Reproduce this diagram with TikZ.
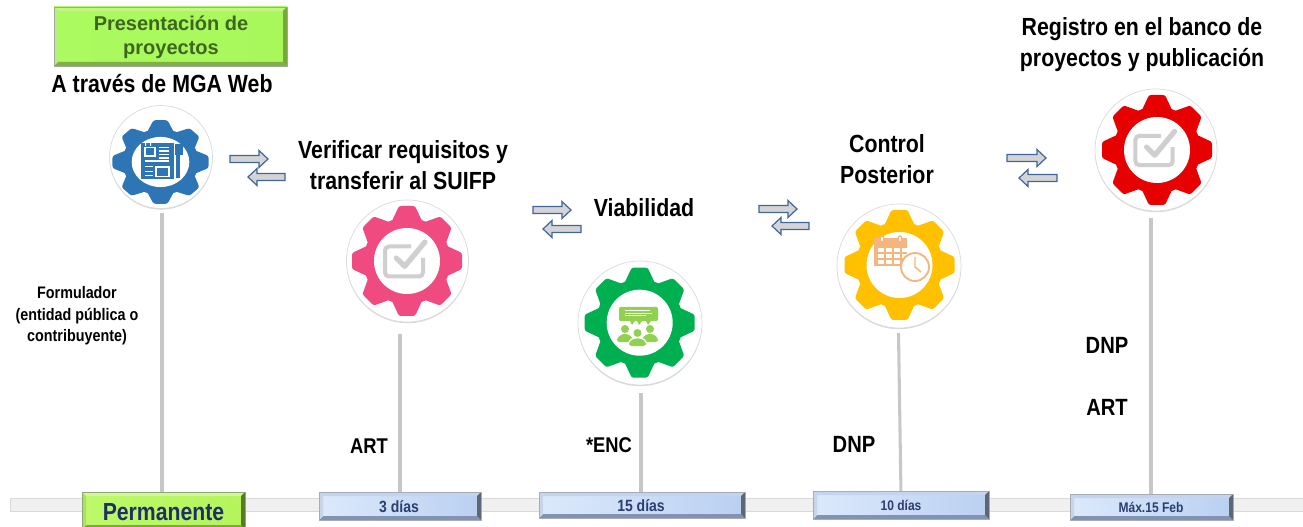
\documentclass[tikz,border=0pt]{standalone}
\usepackage{fontspec}
\setmainfont{Liberation Sans}[BoldFont={Liberation Sans Bold}]
\newfontfamily\narrowbold{Liberation Sans Bold}[FakeStretch=0.86]
\newfontfamily\widebold{Liberation Sans Bold}
\usetikzlibrary{calc}
\definecolor{gblue}{HTML}{2E75B6}
\definecolor{gpink}{HTML}{F04B80}
\definecolor{ggreen}{HTML}{00B050}
\definecolor{gyellow}{HTML}{FFC000}
\definecolor{gred}{HTML}{E60000}
\definecolor{lgreen}{HTML}{92D050}
\definecolor{lorange}{HTML}{F4B57E}
\definecolor{lgray}{HTML}{CFCFCF}
\definecolor{txtgreen}{HTML}{3F661D}
\definecolor{txtblue}{HTML}{1F3068}
\definecolor{txtblue2}{HTML}{2A3F70}
\definecolor{flowline}{HTML}{41659F}
% palettes: L,R face; T,B,W,E bevels; O outline
\definecolor{pL}{HTML}{BDF969}\definecolor{pR}{HTML}{B4F45C}\definecolor{pT}{HTML}{D3F69A}\definecolor{pB}{HTML}{7FA83A}\definecolor{pW}{HTML}{A9E05C}\definecolor{pE}{HTML}{557A2A}\definecolor{pO}{HTML}{8FA878}
\definecolor{bL}{HTML}{DCE9FB}\definecolor{bR}{HTML}{BAD0F2}\definecolor{bT}{HTML}{C4D4EE}\definecolor{bB}{HTML}{8292B2}\definecolor{bW}{HTML}{C8D4E8}\definecolor{bE}{HTML}{5C6674}\definecolor{bO}{HTML}{A8ACB4}
\definecolor{tL}{HTML}{ABFB60}\definecolor{tR}{HTML}{A8F85C}\definecolor{tT}{HTML}{C6F388}\definecolor{tB}{HTML}{80B045}\definecolor{tW}{HTML}{B6F07A}\definecolor{tE}{HTML}{78A83C}\definecolor{tO}{HTML}{A0A8A0}
\tikzset{
  x=0.75pt,y=-0.75pt,
  lbl/.style={inner sep=0pt,align=center,text=black},
  bigtxt/.style={lbl,font=\narrowbold\fontsize{18.6}{23.3}\selectfont},
  midtxt/.style={lbl,font=\narrowbold\fontsize{16}{20}\selectfont},
  dnptxt/.style={lbl,font=\narrowbold\fontsize{17.6}{20}\selectfont},
  smalltxt/.style={lbl,font=\narrowbold\fontsize{12.5}{16}\selectfont},
  disc/.style={circle,fill=white,draw=black!15,line width=0.5pt,inner sep=0pt},
  stem/.style={draw=black!22,line width=2.3pt},
  flow/.style={draw=flowline,fill=black!17,line width=0.9pt,line join=miter},
  boxtxt/.style={inner sep=0pt,text=txtblue2,font=\narrowbold\fontsize{12.2}{13}\selectfont},
  band/.style={draw=black!15,fill=black!6,line width=0.6pt},
}
% gear: name, disc cx cy radius, gear cx cy, xscale, yscale, colour
\newcommand{\gearicon}[9]{%
  \fill[black!14] (#2,#3+1.2) circle[radius=#4];
  \node[disc,minimum size=#4*1.5pt] (#1) at (#2,#3) {};
  \begin{scope}[shift={(#5,#6)},xscale=#7,yscale=#8]
    \fill[#9] (0,0) circle[radius=43.5];
    \foreach \k in {0,45,...,315}{
      \begin{scope}[rotate=\k]
        \fill[#9,rounded corners=1.6pt] (-15.5,-39) -- (-8,-55) -- (8,-55) -- (15.5,-39) -- cycle;
      \end{scope}
    }
    \fill[white] (0,0) circle[radius=33];
  \end{scope}
}
\newcommand{\rarrow}[3]{\draw[flow] (#1,#3-3.5) -- (#2-9,#3-3.5) -- (#2-9,#3-8.5) -- (#2,#3) -- (#2-9,#3+8.5) -- (#2-9,#3+3.5) -- (#1,#3+3.5) -- cycle;}
\newcommand{\larrow}[3]{\draw[flow] (#2,#3-3.5) -- (#1+9,#3-3.5) -- (#1+9,#3-8.5) -- (#1,#3) -- (#1+9,#3+8.5) -- (#1+9,#3+3.5) -- (#2,#3+3.5) -- cycle;}
% bevelled box: name x1 y1 x2 y2 palette letter
\newcommand{\bevel}[6]{%
  \fill[left color=#6L,right color=#6R] (#2,#3) rectangle (#4,#5);
  \fill[#6T] (#2,#3) -- (#4,#3) -- (#4-4,#3+4) -- (#2+4,#3+4) -- cycle;
  \fill[#6B] (#2,#5) -- (#4,#5) -- (#4-4,#5-4) -- (#2+4,#5-4) -- cycle;
  \fill[#6W] (#2,#3) -- (#2+4,#3+4) -- (#2+4,#5-4) -- (#2,#5) -- cycle;
  \fill[#6E] (#4,#3) -- (#4-4,#3+4) -- (#4-4,#5-4) -- (#4,#5) -- cycle;
  \node[draw=#6O,line width=0.7pt,inner sep=0pt,minimum width=(#4-#2)*0.75pt,minimum height=(#5-#3)*0.75pt] (#1) at ({(#2+#4)/2},{(#3+#5)/2}) {};
}
\begin{document}
\begin{tikzpicture}
\useasboundingbox (0,0) rectangle (1303,527);
% timeline band
\draw[band] (10,498) rectangle (1303,511.5);
% gears
\gearicon{gA}{161}{157}{51.5}{160.5}{162}{0.873}{0.76}{gblue}
\gearicon{gB}{407.5}{261}{61}{407}{261}{1}{1}{gpink}
\gearicon{gC}{640}{323}{62}{639.7}{322.7}{1}{1}{ggreen}
\gearicon{gD}{899}{266}{62}{899.5}{265}{1}{1}{gyellow}
\gearicon{gE}{1156}{150}{61}{1157}{150}{1}{1}{gred}
% stem ends
\coordinate (sA) at (162,213);
\coordinate (sB) at (400,334);
\coordinate (sC) at (641,393);
\coordinate (sD) at (898.5,333);
\coordinate (eD) at (901,400);
\coordinate (sE) at (1151,218);
% stems
\draw[stem] (sA) -- (sA |- 0,495);
\draw[stem] (sB) -- (sB |- 0,495);
\draw[stem] (sC) -- (sC |- 0,495);
\draw[stem] (sD) -- (eD |- 0,495);
\draw[stem] (sE) -- (sE |- 0,497);
% boxes
\bevel{bA}{82}{492}{245}{529}{p}
\bevel{bB}{319}{492}{481}{520}{b}
\bevel{bC}{539}{492}{745}{518}{b}
\bevel{bD}{813}{491}{989}{519}{b}
\bevel{bE}{1070}{494}{1233}{520}{b}
\bevel{bT}{54}{7}{287}{66}{t}
\node[boxtxt,text=txtblue,font=\narrowbold\fontsize{18.5}{20}\selectfont] (tA) at (bA.center |- 0,512) {Permanente};
\node[boxtxt] (tB) at (399,507) {3 días};
\node[boxtxt] (tC) at (641,506) {15 días};
\node[boxtxt,font=\narrowbold\fontsize{10.5}{12}\selectfont] (tD) at (901,505) {10 días};
\node[boxtxt,font=\narrowbold\fontsize{10.5}{12}\selectfont] (tE) at (1151,507) {Máx.15 Feb};
\node[lbl,text=txtgreen,font=\widebold\fontsize{15}{18}\selectfont] (tT) at (171,37) {Presentación de\\proyectos};
% arrows
\rarrow{230}{268}{159}\larrow{248}{285}{177}
\rarrow{533}{571}{210}\larrow{543}{581}{229}
\rarrow{759}{797}{209}\larrow{772}{809}{226}
\rarrow{1007}{1046}{158}\larrow{1019}{1057}{178}
% headings
\node[bigtxt] (h1) at (162,84) {A través de MGA Web};
\node[bigtxt] (h2) at (403,165) {Verificar requisitos y\\transferir al SUIFP};
\node[bigtxt] (h3) at (644,208) {Viabilidad};
\node[bigtxt] (h4) at (887,159) {Control\\Posterior};
\node[bigtxt] (h5) at (1142,45) {Registro en el banco de\\proyectos y publicación};
\node[smalltxt] (f) at (77,316) {Formulador\\(entidad pública o\\contribuyente)};
\node[midtxt] (r1) at (369,446) {ART};
\node[midtxt] (r2) at (609,445) {*ENC};
\node[dnptxt] (r3) at (854,444) {DNP};
\node[dnptxt] (r4) at (1107,345) {DNP};
\node[dnptxt] (r5) at (1107,407) {ART};
% icon A: document
\fill[gblue] (141,143) rectangle (174,179);
\fill[gblue] (174.6,144) rectangle (183,155);
\fill[gblue] (175.5,155) rectangle (179.5,178);
\fill[white] (145,143) rectangle (146.2,146) (150,143) rectangle (151.2,146);
\draw[white,line width=0.9pt] (145,147.5) rectangle (155,156);
\foreach \y in {147,150.5,154,157.5}{\fill[white] (159,\y) rectangle (169,\y+1.3);}
\fill[white] (145,160.5) rectangle (169,161.7);
\foreach \y in {166,171,175}{\fill[white] (145,\y) rectangle (153,\y+1.3);}
\draw[white,line width=0.9pt] (156,167) rectangle (169,176.5);
% checks
\foreach \cx/\cy/\s in {407/261/1,1157/150/0.98}{
  \begin{scope}[shift={(\cx,\cy)},scale=\s]
    \draw[lgray,line width=3pt,rounded corners=3pt] (4,-14.5) -- (-22,-14.5) -- (-22,15.5) -- (16,15.5) -- (16,-3);
    \draw[lgray,line width=3.9pt,line cap=round,line join=round] (-10.7,-3) -- (-2.3,5.3) -- (18,-19);
  \end{scope}
}
% icon C: meeting
\begin{scope}[shift={(640,323)}]
  \fill[lgreen,rounded corners=1pt] (-21,-16) rectangle (18,-2);
  \fill[lgreen] (-10,-2) -- (-5,-2) -- (-8,2) -- cycle (-3,-2) -- (2,-2) -- (-1,2) -- cycle (6,-2) -- (11,-2) -- (8,2) -- cycle;
  \foreach \y/\l in {-12.5/14,-10/16,-7.5/10}{\fill[white] (-15,\y) rectangle (\l-4,\y+0.8);}
  \foreach \x in {-15,10}{
    \fill[lgreen] (\x,6) circle[radius=4];
    \fill[lgreen,rounded corners=2pt] (\x-8,19) -- (\x-8,15) -- (\x-3,11) -- (\x+3,11) -- (\x+8,15) -- (\x+8,19) -- cycle;
  }
  \fill[white] (-2.5,10) circle[radius=5.2];
  \fill[lgreen] (-2.5,10) circle[radius=4];
  \fill[white,rounded corners=2pt] (-12.5,24) -- (-12.5,19) -- (-7,14) -- (2,14) -- (7.5,19) -- (7.5,24) -- cycle;
  \fill[lgreen,rounded corners=2pt] (-11,23) -- (-11,19) -- (-6,15.5) -- (1,15.5) -- (6,19) -- (6,23) -- cycle;
\end{scope}
% icon D: calendar + clock
\begin{scope}[shift={(899,266)}]
  \fill[lorange] (-25,-28) rectangle (8,0);
  \foreach \x in {-21,-13,-5,3}{
    \foreach \y in {-17.5,-11.5,-5.5}{\fill[white] (\x,\y) rectangle (\x+6,\y+4);}
  }
  \draw[lorange,line width=1pt,fill=white] (-17,-27) ellipse (2 and 3);
  \draw[lorange,line width=1pt,fill=white] (1,-27) ellipse (2 and 3);
  \draw[lorange,line width=1.4pt,fill=white] (16,1) circle[radius=14];
  \draw[lorange,line width=1.1pt] (16,-9) -- (16,1) -- (22,6);
\end{scope}
\end{tikzpicture}
\end{document}
